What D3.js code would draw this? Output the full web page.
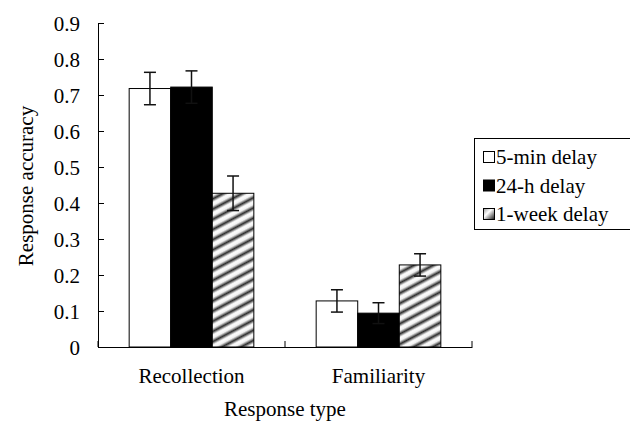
<!DOCTYPE html>
<html><head><meta charset="utf-8">
<script src="https://cdn.jsdelivr.net/npm/d3@7"></script>
<style>body{margin:0;background:#fff}</style>
</head><body><svg id="c" width="630" height="428"></svg>
<script>
const categories = ["Recollection", "Familiarity"];
const seriesNames = ["5-min delay", "24-h delay", "1-week delay"];
const means5min = [0.718, 0.128];
const means24h = [0.722, 0.094];
const means1week = [0.427, 0.228];
const err5min = [0.045, 0.031];
const err24h = [0.045, 0.029];
const err1week = [0.048, 0.031];
const yTicks = [0, 0.1, 0.2, 0.3, 0.4, 0.5, 0.6, 0.7, 0.8, 0.9];

const means = [means5min, means24h, means1week];
const errs = [err5min, err24h, err1week];
const FONT = "Liberation Serif, DejaVu Serif, serif";

const svg = d3.select("#c");
const defs = svg.append("defs");
const pat = defs.append("pattern").attr("id","hatch").attr("patternUnits","userSpaceOnUse")
  .attr("width",9).attr("height",9).attr("patternTransform","rotate(62)");
const lg = defs.append("linearGradient").attr("id","stripe").attr("x1",0).attr("x2",1).attr("y1",0).attr("y2",0);
lg.append("stop").attr("offset","0%").attr("stop-color","#fff");
lg.append("stop").attr("offset","30%").attr("stop-color","#eee");
lg.append("stop").attr("offset","62%").attr("stop-color","#2a2a2a");
lg.append("stop").attr("offset","92%").attr("stop-color","#eee");
lg.append("stop").attr("offset","100%").attr("stop-color","#fff");
pat.append("rect").attr("width",9).attr("height",9).attr("fill","url(#stripe)");
const lg2 = defs.append("linearGradient").attr("id","swg").attr("x1",0).attr("x2",1).attr("y1",0).attr("y2",1);
lg2.append("stop").attr("offset","0%").attr("stop-color","#999");
lg2.append("stop").attr("offset","40%").attr("stop-color","#fff");
lg2.append("stop").attr("offset","100%").attr("stop-color","#111");

const fills = ["#fff", "#000", "url(#hatch)"];
const swFills = ["#fff", "#000", "url(#swg)"];

const mLeft = 98, mRight = 472, mTop = 23, mBottom = 347;
const x = d3.scaleBand().domain(categories).range([mLeft, mRight]).paddingInner(0).paddingOuter(0);
const xs = d3.scaleBand().domain(seriesNames).range([0, x.bandwidth()]).paddingOuter(0.75).paddingInner(0);
const y = d3.scaleLinear().domain([0, 0.9]).range([mBottom, mTop]);

means.forEach((arr, si) => {
  svg.append("g").selectAll("rect").data(categories).join("rect")
    .attr("x", c => x(c) + xs(seriesNames[si]))
    .attr("y", (c, i) => y(arr[i]))
    .attr("width", xs.bandwidth())
    .attr("height", (c, i) => y(0) - y(arr[i]))
    .attr("fill", fills[si]).attr("stroke", "#000").attr("stroke-width", 1);
});
means.forEach((arr, si) => {
  const g = svg.append("g").attr("stroke", "#111").attr("stroke-width", 1.5);
  categories.forEach((c, i) => {
    const cx = x(c) + xs(seriesNames[si]) + xs.bandwidth() / 2;
    const y1 = y(arr[i] + errs[si][i]), y2 = y(arr[i] - errs[si][i]);
    g.append("line").attr("x1", cx).attr("x2", cx).attr("y1", y1).attr("y2", y2);
    g.append("line").attr("x1", cx - 6).attr("x2", cx + 6).attr("y1", y1).attr("y2", y1);
    g.append("line").attr("x1", cx - 6).attr("x2", cx + 6).attr("y1", y2).attr("y2", y2);
  });
});

const ya = svg.append("g").attr("transform", `translate(${mLeft},0)`)
  .call(d3.axisRight(y).tickValues(yTicks).tickFormat(d => d === 0 ? "0" : d3.format(".1f")(d)).tickSize(6).tickSizeOuter(0));
ya.attr("font-family", null);
ya.select(".domain").attr("stroke", "#000");
ya.selectAll(".tick line").attr("stroke", "#000");
ya.selectAll(".tick text").attr("x", -18).attr("text-anchor", "end").attr("font-size", 21).attr("dy", "0.34em").attr("fill", "#000")
  .style("font-family", FONT);

const xa = svg.append("g").attr("transform", `translate(0,${mBottom})`)
  .call(d3.axisBottom(x).tickSize(0).tickSizeOuter(0).tickFormat(""));
xa.select(".domain").attr("stroke", "#000");
xa.selectAll(".tick").remove();
const bounds = [mLeft, x(categories[1]), mRight];
xa.selectAll(".bt").data(bounds).join("line").attr("class","bt")
  .attr("x1", d => d).attr("x2", d => d).attr("y1", 0).attr("y2", -6).attr("stroke", "#000");
svg.append("g").selectAll("text").data(categories).join("text")
  .attr("x", c => x(c) + x.bandwidth() / 2).attr("y", 383)
  .attr("text-anchor", "middle").attr("font-size", 21).style("font-family", FONT).text(c => c);

svg.append("text").attr("x", (mLeft + mRight) / 2).attr("y", 416).attr("text-anchor", "middle")
  .attr("font-size", 21).style("font-family", FONT).text("Response type");
svg.append("text").attr("transform", "translate(33,186) rotate(-90)").attr("text-anchor", "middle")
  .attr("font-size", 21).style("font-family", FONT).text("Response accuracy");

const leg = svg.append("g");
leg.append("rect").attr("x", 474.5).attr("y", 138.5).attr("width", 170).attr("height", 91)
  .attr("fill", "#fff").attr("stroke", "#000");
seriesNames.forEach((s, i) => {
  const cy = 157 + i * 28.5;
  leg.append("rect").attr("x", 483.5).attr("y", cy - 5.5).attr("width", 11).attr("height", 11)
    .attr("fill", swFills[i]).attr("stroke", "#000");
  leg.append("text").attr("x", 496).attr("y", cy + 7).attr("font-size", 21).style("font-family", FONT).text(s);
});
</script></body></html>
